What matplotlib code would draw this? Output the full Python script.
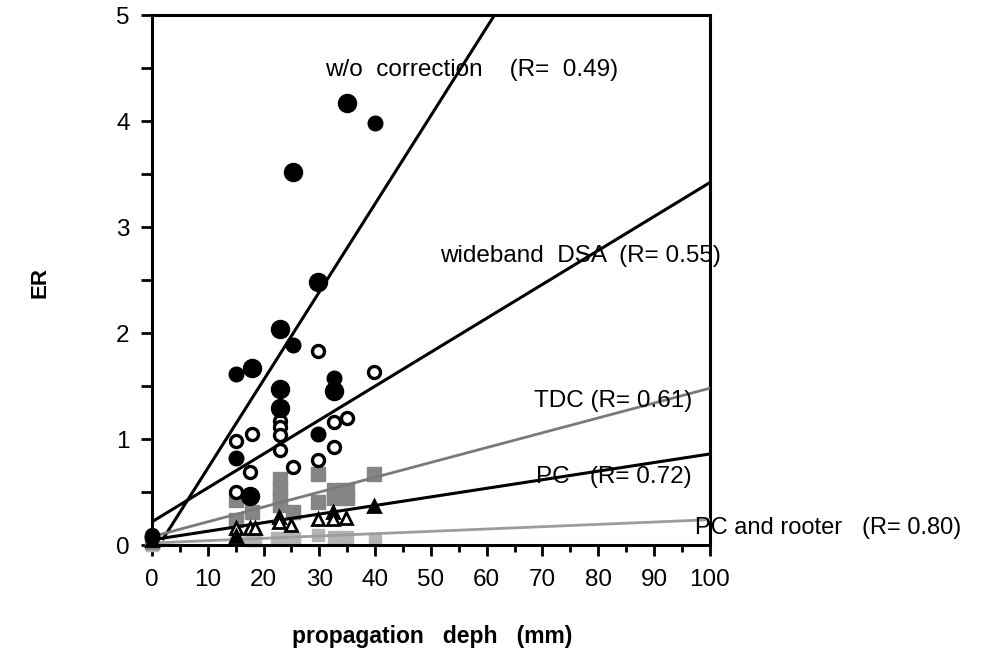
import matplotlib.pyplot as plt
import numpy as np

plt.rcParams['font.family'] = ['Liberation Sans', 'DejaVu Sans']

# w/o correction (filled circles)
wo_x = [35, 40, 25.2, 29.8, 22.9, 25.2, 15, 18, 22.9, 22.9, 32.7, 32.7, 29.8, 15, 17.5, 0]
wo_y = [4.17, 3.98, 3.52, 2.48, 2.04, 1.89, 1.61, 1.67, 1.47, 1.29, 1.58, 1.45, 1.05, 0.82, 0.46, 0.08]
wo_big = [1, 0, 1, 1, 1, 0, 0, 1, 1, 1, 0, 1, 0, 0, 1, 0]

# wideband DSA (open circles)
dsa_x = [29.8, 39.8, 15, 18, 22.9, 22.9, 22.9, 22.9, 32.7, 35, 32.7, 29.8, 25.2, 17.5, 15, 0]
dsa_y = [1.83, 1.63, 0.98, 1.05, 1.17, 1.11, 1.04, 0.9, 1.16, 1.2, 0.93, 0.8, 0.74, 0.69, 0.5, 0.1]

# TDC (dark grey squares)
tdc_x = [22.9, 22.9, 22.9, 22.9, 29.8, 29.8, 32.7, 35, 32.7, 35, 39.8, 15, 15, 18, 25.2, 0]
tdc_y = [0.62, 0.53, 0.45, 0.38, 0.67, 0.41, 0.52, 0.52, 0.44, 0.44, 0.67, 0.43, 0.24, 0.31, 0.31, 0.03]

# PC (triangles)
pc_x = [39.8, 22.7, 32.5, 25, 29.8, 32.5, 34.8, 22.7, 17.5, 18.5, 15, 15, 0]
pc_y = [0.37, 0.27, 0.31, 0.19, 0.25, 0.25, 0.26, 0.22, 0.16, 0.16, 0.16, 0.09, 0.05]
pc_filled = [1, 1, 1, 0, 0, 0, 0, 0, 0, 0, 0, 1, 1]

# PC and rooter (light grey)
pcr_x = [15, 17.5, 18.5, 22.5, 23.5, 25.5, 29.8, 32.7, 35, 40, 0]
pcr_y = [0.08, 0.05, 0.05, 0.07, 0.06, 0.06, 0.1, 0.08, 0.08, 0.06, 0.0]

# regression lines: x range, y at both ends
lines = {
    'wo':  ([2.0, 62.0], [0.06, 5.05]),
    'dsa': ([0, 100], [0.22, 3.42]),
    'tdc': ([0, 100], [0.08, 1.48]),
    'pc':  ([0, 100], [0.05, 0.86]),
    'pcr': ([0, 100], [0.02, 0.24]),
}

fig = plt.figure(figsize=(9.83, 6.56), dpi=100)
ax = fig.add_axes([0.1546, 0.169, 0.5675, 0.808])

# lines
ax.plot(*lines['wo'], color='black', lw=2.2, zorder=3)
ax.plot(*lines['dsa'], color='black', lw=2.2, zorder=3)
ax.plot(*lines['tdc'], color='#7a7a7a', lw=2.0, zorder=3)
ax.plot(*lines['pc'], color='black', lw=2.2, zorder=3)
ax.plot(*lines['pcr'], color='#9c9c9c', lw=2.0, zorder=3)

# markers
ax.scatter(pcr_x, pcr_y, marker='s', s=65, color='#b4b4b4', zorder=2, clip_on=False)
ax.scatter(tdc_x, tdc_y, marker='s', s=100, color='#858585', zorder=2, clip_on=False)
for x, y, f in zip(pc_x, pc_y, pc_filled):
    ax.plot(x, y, marker='^', ms=8.5, mew=2, mec='black',
            mfc='black' if f else 'white', zorder=4, clip_on=False)
ax.scatter(dsa_x, dsa_y, marker='o', s=75, facecolor='white', edgecolor='black',
           linewidth=2.4, zorder=4, clip_on=False)
for x, y, b in zip(wo_x, wo_y, wo_big):
    ax.plot(x, y, marker='o', ms=13 if b else 10.5, color='black', zorder=5, clip_on=False)

ax.set_xlim(0, 100)
ax.set_ylim(0, 5)
ax.set_xticks(np.arange(0, 101, 10))
ax.set_xticks(np.arange(5, 100, 10), minor=True)
ax.set_yticks(np.arange(0, 6, 1))
ax.set_yticks(np.arange(0.5, 5, 1), minor=True)
ax.tick_params(axis='both', which='major', direction='out', length=8, width=2,
               labelsize=17.5)
ax.tick_params(axis='x', which='major', pad=9)
ax.tick_params(axis='y', which='major', pad=8)
ax.tick_params(axis='x', which='minor', direction='out', length=5, width=2)
ax.tick_params(axis='y', which='minor', direction='out', length=8, width=2)
for s in ax.spines.values():
    s.set_linewidth(2.2)

# annotations
fs = 17.5
ax.text(31, 4.48, 'w/o  correction    (R=  0.49)', fontsize=fs, va='center', ha='left')
ax.text(51.6, 2.73, 'wideband  DSA  (R= 0.55)', fontsize=fs, va='center', ha='left')
ax.text(68.4, 1.36, 'TDC (R= 0.61)', fontsize=fs, va='center', ha='left')
ax.text(68.8, 0.64, 'PC   (R= 0.72)', fontsize=fs, va='center', ha='left')
ax.text(97.3, 0.16, 'PC and rooter   (R= 0.80)', fontsize=17, va='center', ha='left',
        clip_on=False)

fig.text(0.041, 0.57, 'ER', rotation=90, fontsize=16, fontweight='bold',
         ha='center', va='center')
fig.text(0.44, 0.03, 'propagation   deph   (mm)', fontsize=16.5, fontweight='bold',
         ha='center', va='center')

fig.savefig('out.png', dpi=100)
